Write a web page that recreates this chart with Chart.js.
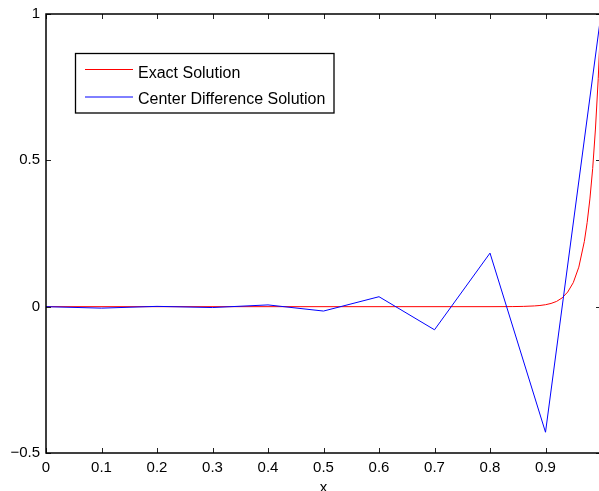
<!DOCTYPE html>
<html>
<head>
<meta charset="utf-8">
<script src="https://cdn.jsdelivr.net/npm/chart.js@4"></script>
<style>
  html, body { margin: 0; padding: 0; background: #fff; overflow: hidden; }
  #wrap { width: 603px; height: 491px; }
</style>
</head>
<body>
<div id="wrap"><canvas id="plot" width="603" height="491"></canvas></div>
<script>
// ====== DADOS ======
const gridX = [0, 0.1, 0.2, 0.3, 0.4, 0.5, 0.6, 0.7, 0.8, 0.9, 1];
const centerDiff = [0, -0.005, 0.001, -0.003, 0.006, -0.015, 0.034, -0.079, 0.183, -0.429, 1];

const exactX = [0, 0.8, 0.84, 0.86, 0.88, 0.89, 0.9, 0.91, 0.92, 0.93, 0.94, 0.95,
                0.96, 0.97, 0.975, 0.98, 0.985, 0.99, 0.995, 1];
const exactY = [0, 0, 0.0003, 0.0009, 0.0025, 0.004, 0.0067, 0.011, 0.018, 0.03, 0.05, 0.082,
                0.135, 0.223, 0.287, 0.368, 0.472, 0.607, 0.779, 1];

const xTicks = [0, 0.1, 0.2, 0.3, 0.4, 0.5, 0.6, 0.7, 0.8, 0.9, 1];
const yTicks = [-0.5, 0, 0.5, 1];
const labels = ["Exact Solution", "Center Difference Solution"];
const cores = ["#ff0000", "#0000ff"];

const FONT = "'Liberation Sans', Arial, Helvetica, sans-serif";

// caixa, ticks para dentro e legenda (estilo matlab)
const matlabAxes = {
  id: "matlabAxes",
  afterDraw(chart) {
    const ctx = chart.ctx;
    const a = chart.chartArea;
    const sx = chart.scales.x;
    const sy = chart.scales.y;
    const tl = 5;
    ctx.save();
    ctx.strokeStyle = "#222";
    ctx.lineWidth = 1;
    xTicks.forEach((v) => {
      const px = Math.round(sx.getPixelForValue(v)) + 0.5;
      ctx.beginPath();
      ctx.moveTo(px, a.bottom); ctx.lineTo(px, a.bottom - tl);
      ctx.moveTo(px, a.top); ctx.lineTo(px, a.top + tl);
      ctx.stroke();
    });
    yTicks.forEach((v) => {
      const py = Math.round(sy.getPixelForValue(v)) + 0.5;
      ctx.beginPath();
      ctx.moveTo(a.left, py); ctx.lineTo(a.left + tl, py);
      ctx.moveTo(a.right, py); ctx.lineTo(a.right - tl, py);
      ctx.stroke();
    });
    // box
    ctx.strokeStyle = "#000";
    ctx.lineWidth = 1.5;
    ctx.strokeRect(a.left, a.top, a.right - a.left, a.bottom - a.top);

    // legenda
    ctx.fillStyle = "#fff";
    ctx.fillRect(75.5, 53.5, 258.5, 59.5);
    ctx.lineWidth = 1.3;
    ctx.strokeRect(75.5, 53.5, 258.5, 59.5);
    const rows = [69.5, 97];
    const base = [77.5, 104.3];
    ctx.font = "16px " + FONT;
    ctx.textBaseline = "alphabetic";
    ctx.textAlign = "left";
    labels.forEach((lab, i) => {
      ctx.strokeStyle = cores[i];
      ctx.lineWidth = 1;
      ctx.beginPath();
      ctx.moveTo(85, rows[i]); ctx.lineTo(133, rows[i]);
      ctx.stroke();
      ctx.fillStyle = "#000";
      ctx.fillText(lab, 138, base[i]);
    });
    ctx.restore();
  },
};

const ctx1 = document.getElementById("plot");
new Chart(ctx1, {
  type: "line",
  data: {
    datasets: [
      {
        label: labels[1],
        data: gridX.map((x, i) => ({ x: x, y: centerDiff[i] })),
        borderColor: cores[1],
        borderWidth: 1,
        pointRadius: 0,
        tension: 0,
        order: 0,
      },
      {
        label: labels[0],
        data: exactX.map((x, i) => ({ x: x, y: exactY[i] })),
        borderColor: cores[0],
        borderWidth: 1,
        pointRadius: 0,
        tension: 0,
        order: 1,
      },
    ],
  },
  options: {
    responsive: false,
    animation: false,
    events: [],
    layout: { padding: { top: 14, right: 2, left: 0, bottom: 0 } },
    plugins: { legend: { display: false }, tooltip: { enabled: false } },
    scales: {
      x: {
        type: "linear",
        min: 0,
        max: 1,
        afterBuildTicks: (s) => { s.ticks = xTicks.map((v) => ({ value: v })); },
        afterFit: (s) => {
          s.height = 38;
          s.paddingLeft = 0;
          s.paddingRight = 0;
        },
        grid: { display: false, drawTicks: false },
        border: { display: false },
        ticks: {
          padding: 6,
          color: "#000",
          font: { family: FONT, size: 15 },
          maxRotation: 0,
          autoSkip: false,
          callback: (v) => (v === 1 ? "" : String(Math.round(v * 10) / 10)),
        },
        title: {
          display: true,
          text: "x",
          color: "#000",
          font: { family: FONT, size: 15, lineHeight: 0.6 },
          padding: { top: 0, bottom: -1 },
        },
      },
      y: {
        type: "linear",
        min: -0.5,
        max: 1,
        afterBuildTicks: (s) => { s.ticks = yTicks.map((v) => ({ value: v })); },
        afterFit: (s) => {
          s.width = 46;
          s.paddingTop = 0;
          s.paddingBottom = 0;
        },
        grid: { display: false, drawTicks: false },
        border: { display: false },
        ticks: {
          padding: 6,
          color: "#000",
          font: { family: FONT, size: 15 },
          callback: (v) => (v < 0 ? "\u2212" + String(-v) : String(v)),
        },
      },
    },
  },
  plugins: [matlabAxes],
});
</script>
</body>
</html>
